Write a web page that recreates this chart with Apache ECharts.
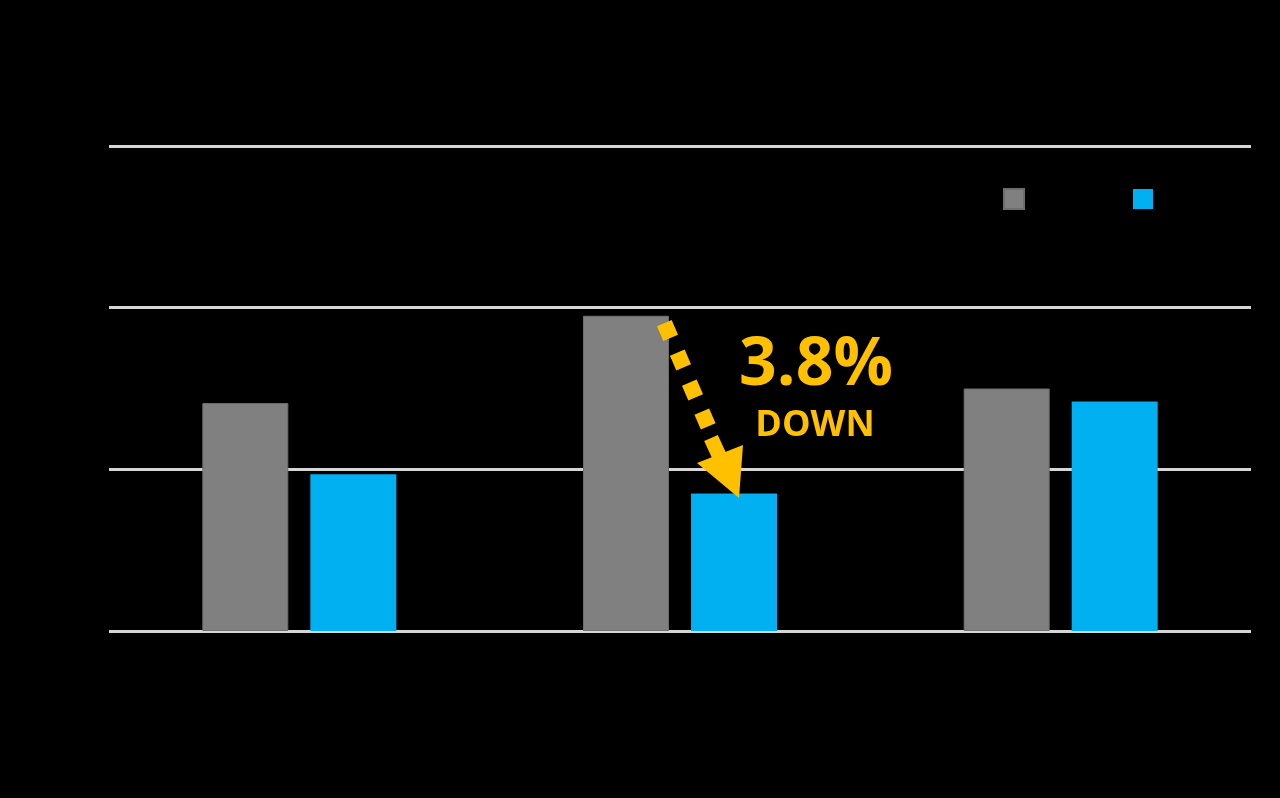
<!DOCTYPE html>
<html>
<head>
<meta charset="utf-8">
<script src="https://cdn.jsdelivr.net/npm/echarts@6/dist/echarts.min.js"></script>
<style>
html,body{margin:0;padding:0;background:#000;}
#chart{width:1280px;height:798px;}
</style>
</head>
<body>
<div id="chart"></div>
<script>
// Data (axis labels and legend text are black on black in the reference)
const categories = ['Category 1', 'Category 2', 'Category 3'];
const seriesNames = ['Before', 'After'];
const grayValues = [141, 195, 150];
const blueValues = [97, 85, 142];
const yTicks = [0, 100, 200, 300];
const annotationMain = '3.8%';
const annotationSub = 'DOWN';

const chart = echarts.init(document.getElementById('chart'), null, {renderer: 'canvas'});
const gold = '#FFC000';

// annotation arrow: square dashes along the arrow direction
const dashCenters = [[667.5, 330.5], [680.5, 360], [692.5, 390], [705, 419]];
const dashRot = 0.4067; // radians
const dashes = dashCenters.map(c => ({
  type: 'rect', z: 100, x: c[0], y: c[1], rotation: dashRot,
  shape: {x: -8, y: -8, width: 16, height: 16},
  style: {fill: gold}
}));

const option = {
  backgroundColor: '#000000',
  animation: false,
  grid: {left: 109, right: 29, top: 146, bottom: 167, containLabel: false},
  legend: [
    {data: [seriesNames[0]], left: 1003, top: 188, padding: 0, itemWidth: 20, itemHeight: 20, icon: 'rect',
     textStyle: {color: '#000', fontSize: 18}},
    {data: [seriesNames[1]], left: 1133, top: 189, padding: 0, itemWidth: 20, itemHeight: 20, icon: 'rect',
     textStyle: {color: '#000', fontSize: 18}}
  ],
  xAxis: {
    type: 'category',
    data: categories,
    axisLine: {show: false},
    axisTick: {show: false},
    axisLabel: {color: '#000', fontSize: 18, margin: 20}
  },
  yAxis: {
    type: 'value',
    min: yTicks[0],
    max: yTicks[yTicks.length - 1],
    interval: yTicks[1] - yTicks[0],
    axisLine: {show: false},
    axisTick: {show: false},
    axisLabel: {color: '#000', fontSize: 18},
    splitLine: {lineStyle: {color: '#d6d6d6', width: 3}}
  },
  series: [
    {
      name: seriesNames[0], type: 'bar', data: grayValues,
      barWidth: 86, barGap: '25.6%',
      itemStyle: {color: '#808080', borderColor: '#6e6e6e', borderWidth: 1}
    },
    {
      name: seriesNames[1], type: 'bar', data: blueValues,
      barWidth: 86,
      itemStyle: {color: '#00B0F0'}
    }
  ],
  graphic: dashes.concat([
    {
      type: 'polygon', z: 100,
      shape: {points: [[697, 463], [743, 445], [739, 498]]},
      style: {fill: gold}
    },
    {
      type: 'line', z: 100,
      shape: {x1: 711, y1: 438, x2: 722, y2: 462},
      style: {stroke: gold, lineWidth: 15, lineCap: 'butt'}
    },
    {
      type: 'text', z: 100,
      style: {
        text: annotationMain, x: 816, y: 366, align: 'center', verticalAlign: 'middle',
        fill: gold, font: 'bold 66px "Open Sans", sans-serif'
      }
    },
    {
      type: 'text', z: 100,
      style: {
        text: annotationSub, x: 815, y: 426, align: 'center', verticalAlign: 'middle',
        fill: gold, font: 'bold 36px "Open Sans", sans-serif'
      }
    }
  ])
};
chart.setOption(option);
</script>
</body>
</html>
